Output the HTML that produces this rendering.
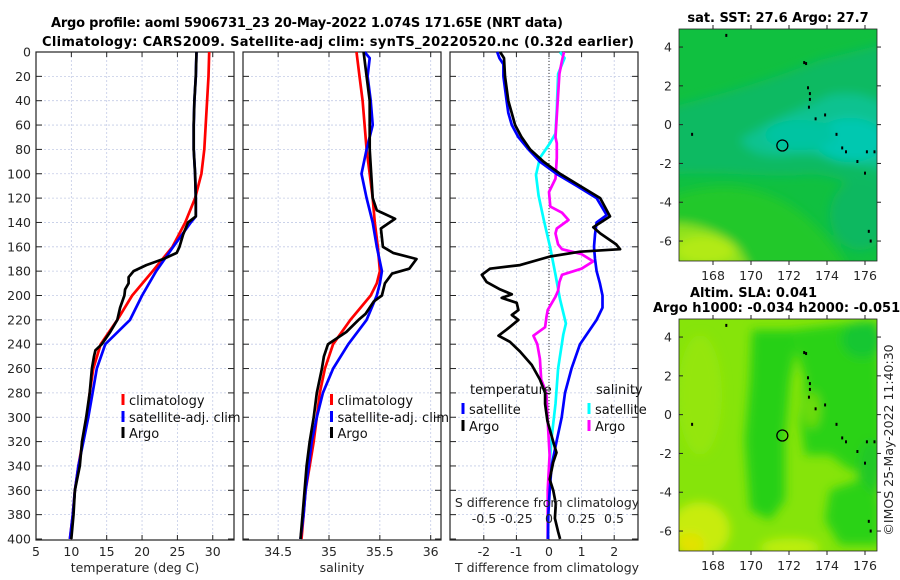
<!DOCTYPE html>
<html><head><meta charset="utf-8"><style>
html,body{margin:0;padding:0;background:#fff;}
svg{display:block;font-family:"DejaVu Sans","Liberation Sans",sans-serif;}
.tk{font-size:12.5px;fill:#262626;}
.tt{font-size:13px;font-weight:bold;fill:#000;}
.lg{font-size:13px;fill:#111;}
</style></head><body>
<svg id="fig" width="900" height="580" viewBox="0 0 900 580" xmlns="http://www.w3.org/2000/svg">
<defs>
<filter id="blur6" x="-50%" y="-50%" width="200%" height="200%"><feGaussianBlur stdDeviation="5"/></filter>
<clipPath id="clipTop"><rect x="679" y="29" width="198" height="232"/></clipPath>
<clipPath id="clipBot"><rect x="679" y="319" width="198" height="232"/></clipPath>
</defs>
<text class="tt" x="307" y="27" text-anchor="middle" textLength="512">Argo profile: aoml 5906731_23 20-May-2022 1.074S 171.65E (NRT data)</text>
<text class="tt" x="338" y="46" text-anchor="middle" textLength="592">Climatology: CARS2009. Satellite-adj clim: synTS_20220520.nc (0.32d earlier)</text>

<g id="p1"></g>
<g id="p2"></g>
<g id="p3"></g>

<text class="tt" x="778" y="22" text-anchor="middle">sat. SST: 27.6 Argo: 27.7</text>
<g clip-path="url(#clipTop)">
<rect x="679" y="29" width="198" height="232" fill="#10c040"/>
<g filter="url(#blur6)">
<path d="M660,110 C720,95 770,80 820,60 L900,40 L900,200 C860,190 830,170 800,175 C760,178 730,170 660,175 Z" fill="#0cba62"/>
<path d="M740,140 C770,120 800,110 830,95 C860,90 880,100 890,110 L890,170 C850,165 820,150 790,155 C770,158 750,155 740,140 Z" fill="#08c290"/>
<ellipse cx="850" cy="140" rx="35" ry="22" fill="#00c8b0"/>
<ellipse cx="800" cy="135" rx="35" ry="15" fill="#06c4a2"/>
<ellipse cx="860" cy="215" rx="30" ry="35" fill="#0cb860"/>
<path d="M660,200 C700,185 740,180 780,200 C810,215 830,240 850,270 L660,270 Z" fill="#22c82a"/>
<path d="M660,225 C690,220 720,230 740,250 L750,270 L660,270 Z" fill="#90e21e"/>
<ellipse cx="705" cy="250" rx="30" ry="14" fill="#b2ea14"/>
</g>
</g>
<rect x="679" y="29" width="198" height="232" fill="none" stroke="#222" stroke-width="0.8"/>

<text class="tt" x="690" y="297">Altim. SLA: 0.041</text>
<text class="tt" x="653" y="312">Argo h1000: -0.034 h2000: -0.051</text>
<g clip-path="url(#clipBot)">
<rect x="679" y="319" width="198" height="232" fill="#86e40a"/>
<g filter="url(#blur6)">
<path d="M752,330 L800,330 L790,380 L785,440 L785,500 L770,520 L750,510 L745,440 L750,380 Z" fill="#28d012"/>
<path d="M790,330 L877,320 L885,470 L850,470 L830,455 L805,455 L800,420 L805,380 Z" fill="#2ad212"/>
<ellipse cx="862" cy="340" rx="20" ry="18" fill="#14c630"/>
<ellipse cx="870" cy="470" rx="12" ry="30" fill="#20c828"/>
<path d="M830,490 L860,480 L880,500 L880,545 L840,545 L825,520 Z" fill="#2ad212"/>
<ellipse cx="812" cy="410" rx="8" ry="18" fill="#6edc0c"/>
<ellipse cx="700" cy="395" rx="22" ry="60" fill="#94e60a"/>
<ellipse cx="700" cy="530" rx="30" ry="28" fill="#c8ec08"/>
<ellipse cx="690" cy="545" rx="14" ry="12" fill="#e2e200"/>
<ellipse cx="790" cy="548" rx="30" ry="10" fill="#bcee08"/>
</g>
</g>
<rect x="679" y="319" width="198" height="232" fill="none" stroke="#222" stroke-width="0.8"/>
<g id="maps"></g>
<text class="tk" transform="translate(893,440) rotate(-90)" text-anchor="middle" font-size="12.5">©IMOS 25-May-2022 11:40:30</text>
</svg>
<script>
// ---------- data ----------
var depthTicks = [0,20,40,60,80,100,120,140,160,180,200,220,240,260,280,300,320,340,360,380,400];
var tempTicks = [5,10,15,20,25,30];
var salTicks = [34.5,35,35.5,36];
var dTTicks = [-2,-1,0,1,2];
var dSTicks = [-0.5,-0.25,0,0.25,0.5];
var dSTickLabels = ["-0.5","-0.25","0","0.25","0.5"];
var latTicks = [4,2,0,-2,-4,-6];
var lonTicks = [168,170,172,174,176];

var climTDepth = [0,20,40,60,80,100,120,140,160,180,200,220,240,260,280,300,320,340,360,380,400];
var climT      = [29.5,29.4,29.2,29.0,28.8,28.4,27.5,26.1,24.3,21.5,18.6,16.5,14.15,13.1,12.6,12.2,11.6,11.0,10.5,10.2,9.8];
var satTDepth  = [0,20,40,60,80,100,120,135,140,160,180,200,220,240,260,280,300,320,340,360,380,400];
var satT       = [27.7,27.6,27.4,27.3,27.3,27.5,27.6,27.6,26.9,24.4,22.0,20.0,18.3,14.8,13.6,13.0,12.4,11.7,11.0,10.5,10.2,9.8];
var argoTDepth = [0,20,40,60,80,100,120,135,140,150,160,165,170,175,180,185,190,195,200,210,220,230,240,245,250,260,280,300,320,340,360,380,400];
var argoT      = [27.7,27.6,27.4,27.3,27.3,27.5,27.6,27.6,26.5,25.8,25.3,24.9,23.0,20.6,18.8,18.1,18.1,17.6,17.5,16.9,16.5,15.5,14.3,13.4,13.2,12.9,12.6,12.1,11.5,11.2,10.5,10.3,10.0];

var climSDepth = [0,20,40,60,80,100,120,140,160,180,190,200,220,240,260,280,300,320,340,360,380,400];
var climS      = [35.27,35.30,35.33,35.35,35.37,35.40,35.43,35.45,35.48,35.50,35.47,35.41,35.21,35.04,34.96,34.91,34.88,34.85,34.81,34.77,34.75,34.73];
var satSDepth  = [0,5,20,40,60,80,100,120,140,160,180,190,200,210,220,240,260,280,300,320,340,360,380,400];
var satS       = [35.35,35.40,35.38,35.41,35.43,35.37,35.32,35.37,35.43,35.47,35.52,35.50,35.47,35.42,35.37,35.19,35.04,34.94,34.88,34.83,34.80,34.77,34.75,34.72];
var argoSDepth = [0,20,40,80,120,130,137,145,160,165,170,178,182,190,200,205,215,220,230,240,250,260,280,300,320,340,360,380,400];
var argoS      = [35.34,35.37,35.40,35.40,35.43,35.47,35.65,35.51,35.53,35.63,35.86,35.79,35.62,35.55,35.52,35.44,35.36,35.29,35.17,34.99,34.95,34.93,34.88,34.85,34.81,34.78,34.76,34.74,34.72];

var satDTDepth  = [0,5,10,20,40,50,60,70,80,90,100,110,120,134,140,150,160,170,180,190,200,210,220,240,260,280,300,320,340,360,380,400];
var satDT       = [-1.59,-1.52,-1.40,-1.40,-1.30,-1.25,-1.14,-0.94,-0.63,-0.28,0.23,0.85,1.46,1.77,1.46,1.41,1.38,1.41,1.46,1.56,1.64,1.64,1.46,0.95,0.69,0.49,0.39,0.23,0.08,0.02,-0.02,-0.03];
var argoDTDepth = [0,5,20,40,60,70,80,90,100,110,120,135,144,149,158,162,164,168,175,178,183,189,195,199,202,206,212,216,220,228,233,238,246,257,269,280,289,303,320,329,337,351,360,371,383,394,400];
var argoDT      = [-1.50,-1.38,-1.35,-1.25,-1.04,-0.84,-0.58,-0.17,0.34,0.95,1.57,1.87,1.36,1.57,2.06,2.18,0.95,0.03,-0.89,-1.81,-2.06,-1.91,-1.50,-1.14,-1.45,-0.99,-0.94,-1.14,-0.94,-1.30,-1.55,-1.20,-0.89,-0.53,-0.28,-0.12,-0.12,-0.05,0.13,0.23,0.13,0.02,0.13,0.21,0.18,0.28,0.34];
var satDSDepth  = [0,5,18,47,67,75,87,101,118,138,161,183,203,223,232,260,289,317,346,374,400];
var satDS       = [0.085,0.12,0.07,0.06,0.05,0.007,-0.07,-0.10,-0.08,-0.04,0.01,0.05,0.085,0.13,0.11,0.07,0.05,0.02,0.0,-0.005,-0.01];
var argoDSDepth = [0,7,18,47,70,75,87,104,115,127,132,138,145,149,158,162,166,172,178,183,189,196,201,212,218,226,233,240,252,269,280,303,331,360,388,400];
var argoDS      = [0.115,0.10,0.08,0.063,0.05,0.06,0.06,0.05,0.0,0.01,0.10,0.15,0.06,0.05,0.07,0.10,0.25,0.34,0.25,0.10,0.08,0.07,0.05,-0.01,-0.02,-0.03,-0.12,-0.09,-0.07,-0.06,-0.02,-0.01,0.005,-0.01,-0.01,-0.01];

var floatLon = 171.65, floatLat = -1.074;
var coastLon = [168.7,172.8,172.9,173.0,173.1,173.05,173.4,173.9,174.5,174.8,175.0,175.6,176.0,176.1,176.3,176.5,166.9,176.2,173.1];
var coastLat = [4.6,3.2,3.15,1.9,1.6,0.9,0.3,0.5,-0.5,-1.2,-1.4,-1.9,-2.5,-1.4,-6.0,-1.4,-0.5,-5.5,1.3];

// ---------- scales ----------
function yD(d){return 52 + d*1.2175;}
function xT(t){return 36 + (t-5)*7.07;}
function xS(s){return 329 + (s-35)*101.7;}
function xdT(v){return 549 + v*32.6;}
function xdS(v){return 549 + v*130;}
function mx(lon){return 713 + (lon-168)*19;}
function my(lat){return 29 + (4.93-lat)*19.4;}

var NS="http://www.w3.org/2000/svg";
function el(tag, attrs, parent){var e=document.createElementNS(NS,tag);for(var k in attrs)e.setAttribute(k,attrs[k]);parent.appendChild(e);return e;}

function panel(g, x0, x1, xticks, xscale, xlabels, showY, lblY){
  xticks.forEach(function(t,i){
    var l=el('line',{x1:xscale(t),x2:xscale(t),y1:52,y2:540,stroke:'#c3cbe6','stroke-width':0.8,'stroke-dasharray':'2,2'},g);
    
    
    if(xlabels){
      var tx=el('text',{x:xscale(t),y:lblY,'text-anchor':'middle','class':'tk'},g);
      tx.textContent=xlabels[i];
      
      
      el('line',{x1:xscale(t),x2:xscale(t),y1:540,y2:535,stroke:'#222','stroke-width':1},g);
      el('line',{x1:xscale(t),x2:xscale(t),y1:52,y2:57,stroke:'#222','stroke-width':1},g);
    }
  });
  depthTicks.forEach(function(d){
    if(d>0&&d<400){
      var l=el('line',{x1:x0,x2:x1,y1:yD(d),y2:yD(d),stroke:'#c3cbe6','stroke-width':0.8,'stroke-dasharray':'2,2'},g);
      
      
    }
    el('line',{x1:x0,x2:x0+6,y1:yD(d),y2:yD(d),stroke:'#222','stroke-width':1},g);
    el('line',{x1:x1-6,x2:x1,y1:yD(d),y2:yD(d),stroke:'#222','stroke-width':1},g);
    if(showY){
      var tx=el('text',{x:x0-5,y:yD(d)+4.5,'text-anchor':'end','class':'tk'},g);
      tx.textContent=d;
      
      
    }
  });
  var b=el('rect',{x:x0,y:52,width:x1-x0,height:488,fill:'none',stroke:'#222','stroke-width':1.2},g);
  
  
}
function series(g, depths, vals, xscale, color, name){
  var pts=depths.map(function(d,i){return xscale(vals[i]).toFixed(1)+','+yD(d).toFixed(1);}).join(' ');
  var p=el('polyline',{points:pts,fill:'none',stroke:color,'stroke-width':2.7,'stroke-linejoin':'round'},g);
  
  
}
function legend(g, x, y, color, label, name){
  var r=el('rect',{x:x-1.5,y:y-7,width:3,height:11,fill:color},g);
  
  
  var t=el('text',{x:x+6,y:y+4,'class':'lg'},g);
  t.textContent=label;
  
  
}

var p1=document.getElementById('p1');
panel(p1,36,234,tempTicks,xT,tempTicks.map(String),true,556);
series(p1,climTDepth,climT,xT,'#ff0000','climatology-temperature-line');
series(p1,satTDepth,satT,xT,'#0000ff','satellite-temperature-line');
series(p1,argoTDepth,argoT,xT,'#000000','argo-temperature-line');
legend(p1,123,401,'#ff0000','climatology','legend-climatology');
legend(p1,123,418,'#0000ff','satellite-adj. clim','legend-satellite');
legend(p1,123,434,'#000000','Argo','legend-argo');
var at=el('text',{x:135,y:572,'text-anchor':'middle','class':'tk','font-size':'13'},p1);
at.textContent='temperature (deg C)';



var p2=document.getElementById('p2');
panel(p2,243,441,salTicks,xS,salTicks.map(String),false,556);
series(p2,climSDepth,climS,xS,'#ff0000','climatology-salinity-line');
series(p2,satSDepth,satS,xS,'#0000ff','satellite-salinity-line');
series(p2,argoSDepth,argoS,xS,'#000000','argo-salinity-line');
legend(p2,331.5,401,'#ff0000','climatology','legend-climatology-s');
legend(p2,331.5,418,'#0000ff','satellite-adj. clim','legend-satellite-s');
legend(p2,331.5,434,'#000000','Argo','legend-argo-s');
var as=el('text',{x:342,y:572,'text-anchor':'middle','class':'tk','font-size':'13'},p2);
as.textContent='salinity';



var p3=document.getElementById('p3');
panel(p3,450,638,dTTicks,xdT,dTTicks.map(String),false,556);
var zl=el('line',{x1:xdT(0),x2:xdT(0),y1:52,y2:540,stroke:'#333','stroke-width':1,'stroke-dasharray':'1,2'},p3);


series(p3,satDSDepth,satDS,xdS,'#00ffff','satellite-salinity-diff-line');
series(p3,argoDSDepth,argoDS,xdS,'#ff00ff','argo-salinity-diff-line');
series(p3,satDTDepth,satDT,xdT,'#0000ff','satellite-temperature-diff-line');
series(p3,argoDTDepth,argoDT,xdT,'#000000','argo-temperature-diff-line');
var lt=el('text',{x:470,y:394,'class':'lg'},p3); lt.textContent='temperature';


var ls=el('text',{x:596,y:394,'class':'lg'},p3); ls.textContent='salinity';


legend(p3,463,410,'#0000ff','satellite','legend-t-satellite');
legend(p3,463,427,'#000000','Argo','legend-t-argo');
legend(p3,589,410,'#00ffff','satellite','legend-s-satellite');
legend(p3,589,427,'#ff00ff','Argo','legend-s-argo');
var sdt=el('text',{x:547,y:507,'text-anchor':'middle','class':'tk','font-size':'13'},p3);
sdt.textContent='S difference from climatology';


dSTicks.forEach(function(v,i){
  var t=el('text',{x:xdS(v),y:523,'text-anchor':'middle','class':'tk'},p3);
  t.textContent=dSTickLabels[i];
  
  
});
var tdt=el('text',{x:547,y:572,'text-anchor':'middle','class':'tk','font-size':'13'},p3);
tdt.textContent='T difference from climatology';



var mg=document.getElementById('maps');
[0,290].forEach(function(off){
  latTicks.forEach(function(la){
    var y=my(la)+off;
    el('line',{x1:679,x2:683,y1:y,y2:y,stroke:'#222'},mg);
    el('line',{x1:877,x2:881,y1:y,y2:y,stroke:'#222'},mg);
    var t=el('text',{x:672,y:y+4.5,'text-anchor':'end','class':'tk'},mg);
    t.textContent=la;
    
    
  });
  lonTicks.forEach(function(lo){
    var x=mx(lo);
    el('line',{x1:x,x2:x,y1:261+off,y2:265+off,stroke:'#222'},mg);
    el('line',{x1:x,x2:x,y1:25+off,y2:29+off,stroke:'#222'},mg);
    var t=el('text',{x:x,y:280+off,'text-anchor':'middle','class':'tk'},mg);
    t.textContent=lo;
    
    
  });
  coastLon.forEach(function(lo,i){
    var c=el('rect',{x:mx(lo)-1,y:my(coastLat[i])+off-1.5,width:2,height:3,fill:'#000'},mg);
    
    
  });
  var fc=el('circle',{cx:mx(floatLon),cy:my(floatLat)+off,r:5.5,fill:'none',stroke:'#000','stroke-width':1.3},mg);
  
  
});
</script>
</body></html>
